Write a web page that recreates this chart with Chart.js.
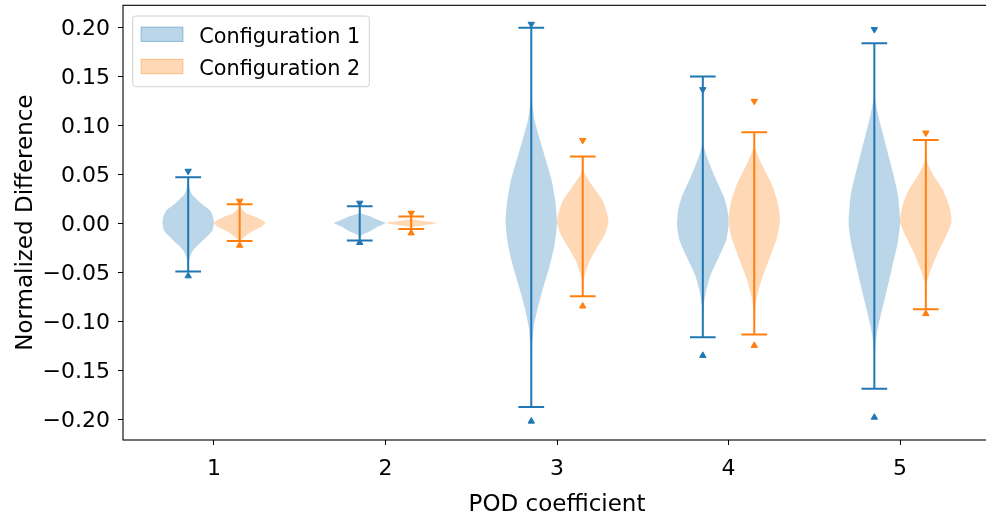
<!DOCTYPE html>
<html>
<head>
<meta charset="utf-8">
<script src="https://cdn.jsdelivr.net/npm/chart.js@4.4.1/dist/chart.umd.min.js"></script>
<style>
  html, body { margin: 0; padding: 0; background: #fff; overflow: hidden; }
  #wrap { width: 986px; height: 519px; overflow: hidden; }
  canvas { display: block; }
</style>
</head>
<body>
<div id="wrap"><canvas id="chart" width="996" height="519"></canvas></div>
<script>
// POD coefficients and axis ticks
const coefficients = [1, 2, 3, 4, 5];
const seriesNames = ['Configuration 1', 'Configuration 2'];
const xTicks = [1, 2, 3, 4, 5];
const yTicks = [-0.20, -0.15, -0.10, -0.05, 0, 0.05, 0.10, 0.15, 0.20];

// extrema of each violin (caps)
const config1Max = [0.0467, 0.0171, 0.1993, 0.1496, 0.1836];
const config1Min = [-0.0494, -0.0177, -0.1877, -0.1165, -0.1692];
const config2Max = [0.0191, 0.0068, 0.0678, 0.0927, 0.0848];
const config2Min = [-0.0184, -0.0061, -0.0746, -0.1137, -0.0879];

// triangle markers above / below
const config1Top = [0.053, 0.0204, 0.203, 0.1363, 0.1976];
const config1Bottom = [-0.054, -0.020, -0.2023, -0.1352, -0.1983];
const config2Top = [0.0225, 0.0102, 0.0845, 0.1244, 0.092];
const config2Bottom = [-0.0228, -0.0102, -0.0848, -0.125, -0.0926];

// violin outlines: [value, relative half width], top to bottom
const config1Density = [
    [[0.0467, 0], [0.040, 0.02], [0.030, 0.13], [0.020, 0.51], [0.013, 0.84], [0.006, 0.97], [0, 1], [-0.0075, 0.94], [-0.0143, 0.71], [-0.021, 0.45], [-0.028, 0.19], [-0.035, 0.06], [-0.042, 0.02], [-0.0494, 0]],
    [[0.0171, 0], [0.010, 0.05], [0.0068, 0.42], [0.0034, 0.7], [0, 1], [-0.004, 0.68], [-0.009, 0.36], [-0.0123, 0.08], [-0.0177, 0]],
    [[0.1993, 0], [0.145, 0.005], [0.125, 0.03], [0.105, 0.13], [0.0846, 0.34], [0.064, 0.57], [0.0437, 0.79], [0.023, 0.93], [0, 1], [-0.0245, 0.89], [-0.045, 0.70], [-0.0654, 0.47], [-0.0858, 0.26], [-0.106, 0.10], [-0.127, 0.03], [-0.15, 0.005], [-0.1877, 0]],
    [[0.1496, 0], [0.10, 0.003], [0.081, 0.02], [0.0675, 0.16], [0.047, 0.47], [0.0266, 0.82], [0.013, 0.96], [-0.0024, 1], [-0.018, 0.9], [-0.0348, 0.62], [-0.0517, 0.32], [-0.0688, 0.13], [-0.0858, 0.03], [-0.1165, 0]],
    [[0.1836, 0], [0.1288, 0.02], [0.108, 0.17], [0.081, 0.43], [0.0505, 0.73], [0.028, 0.92], [0, 1], [-0.021, 0.9], [-0.045, 0.69], [-0.0688, 0.48], [-0.0926, 0.26], [-0.113, 0.09], [-0.1335, 0.02], [-0.1692, 0]]
];
const config2Density = [
    [[0.0191, 0], [0.015, 0.05], [0.010, 0.25], [0.006, 0.64], [0.0027, 0.9], [0, 1], [-0.004, 0.83], [-0.009, 0.45], [-0.0143, 0.19], [-0.0184, 0]],
    [[0.0068, 0], [0.004, 0.05], [0.0027, 0.3], [0.0012, 0.75], [0, 1], [-0.0012, 0.75], [-0.0027, 0.3], [-0.004, 0.05], [-0.0061, 0]],
    [[0.0678, 0], [0.0505, 0.07], [0.0368, 0.41], [0.023, 0.77], [0.0096, 0.95], [0.001, 1], [-0.0108, 0.87], [-0.0245, 0.57], [-0.038, 0.28], [-0.0517, 0.09], [-0.062, 0.02], [-0.0746, 0]],
    [[0.0927, 0], [0.0777, 0.02], [0.0607, 0.28], [0.040, 0.67], [0.023, 0.89], [0.0045, 1], [-0.0143, 0.89], [-0.0348, 0.61], [-0.055, 0.32], [-0.0756, 0.10], [-0.0926, 0.02], [-0.1137, 0]],
    [[0.0848, 0], [0.064, 0.03], [0.0505, 0.26], [0.0334, 0.67], [0.0164, 0.92], [0.001, 1], [-0.0143, 0.77], [-0.0313, 0.45], [-0.0483, 0.19], [-0.062, 0.03], [-0.0879, 0]]
];

// layout / style
const violinOffset = 0.15;
const violinHalf = 0.15;
const capHalf = 0.075;
const font = "'DejaVu Sans', sans-serif";
const colors = ['#1f77b4', '#ff7f0e'];
const fills = ['rgba(31, 119, 180, 0.3)', 'rgba(255, 127, 14, 0.3)'];

function violinOutline(center, profile) {
    const left = profile.map(([v, w]) => ({x: center - w * violinHalf, y: v}));
    const right = profile.slice().reverse().map(([v, w]) => ({x: center + w * violinHalf, y: v}));
    return left.concat(right);
}

function whiskerPoints(centers, maxs, mins) {
    const pts = [];
    centers.forEach((c, i) => {
        pts.push({x: c - capHalf, y: maxs[i]}, {x: c + capHalf, y: maxs[i]}, {x: null, y: null});
        pts.push({x: c, y: maxs[i]}, {x: c, y: mins[i]}, {x: null, y: null});
        pts.push({x: c - capHalf, y: mins[i]}, {x: c + capHalf, y: mins[i]}, {x: null, y: null});
    });
    return pts;
}

function markerSet(centers, values, color, rotation) {
    return {
        data: centers.map((c, i) => ({x: c, y: values[i]})),
        showLine: false,
        pointStyle: 'triangle',
        pointRotation: rotation,
        pointRadius: 3.7,
        pointBackgroundColor: color,
        pointBorderColor: color,
        pointBorderWidth: 1,
        order: 1
    };
}

const configs = [
    {density: config1Density, max: config1Max, min: config1Min, top: config1Top, bottom: config1Bottom, shift: -violinOffset},
    {density: config2Density, max: config2Max, min: config2Min, top: config2Top, bottom: config2Bottom, shift: violinOffset}
];

const datasets = [];
configs.forEach((cfg, k) => {
    const centers = coefficients.map(c => c + cfg.shift);
    centers.forEach((c, i) => {
        datasets.push({
            data: violinOutline(c, cfg.density[i]),
            fill: 'shape',
            backgroundColor: fills[k],
            borderColor: 'rgba(0,0,0,0)',
            borderWidth: 1,
            pointRadius: 0,
            tension: 0.2,
            order: 3
        });
    });
    datasets.push({
        data: whiskerPoints(centers, cfg.max, cfg.min),
        borderColor: colors[k],
        borderWidth: 2,
        pointRadius: 0,
        fill: false,
        spanGaps: false,
        tension: 0,
        order: 2
    });
    datasets.push(markerSet(centers, cfg.top, colors[k], 180));
    datasets.push(markerSet(centers, cfg.bottom, colors[k], 0));
});

// spines and legend box
const framePlugin = {
    id: 'frame',
    afterDatasetsDraw(chart) {
        const {ctx, chartArea: a} = chart;
        ctx.save();
        ctx.strokeStyle = '#000';
        ctx.lineWidth = 1.1;
        ctx.strokeRect(a.left, a.top, a.right - a.left, a.bottom - a.top);

        // legend
        const lx = a.left + 9.7, ly = a.top + 10.7;
        ctx.beginPath();
        ctx.roundRect(lx, ly, 236.6, 70.7, 3);
        ctx.fillStyle = 'rgba(255,255,255,0.8)';
        ctx.fill();
        ctx.strokeStyle = '#d0d0d0';
        ctx.lineWidth = 1;
        ctx.stroke();

        ctx.font = '20.8px ' + font;
        ctx.textBaseline = 'alphabetic';
        seriesNames.forEach((name, k) => {
            const rowY = ly + 10.7 + k * 32.2;
            ctx.fillStyle = fills[k];
            ctx.fillRect(lx + 8, rowY, 42.6, 15.2);
            ctx.strokeStyle = fills[k];
            ctx.strokeRect(lx + 8.5, rowY + 0.5, 41.6, 14.2);
            ctx.fillStyle = '#000';
            ctx.fillText(name, lx + 66.6, rowY + 15.8);
        });
        ctx.restore();
    }
};

new Chart(document.getElementById('chart'), {
    type: 'line',
    data: {datasets: datasets},
    plugins: [framePlugin],
    options: {
        responsive: false,
        animation: false,
        events: [],
        indexAxis: 'y',
        layout: {padding: {top: 5.3, right: 1.4, bottom: 0, left: 0}},
        plugins: {legend: {display: false}, tooltip: {enabled: false}},
        scales: {
            x: {
                type: 'linear',
                position: 'bottom',
                min: 0.47,
                max: 5.53,
                afterFit: s => { s.height = 79; s.paddingLeft = 0; s.paddingRight = 0; },
                afterBuildTicks: s => { s.ticks = xTicks.map(v => ({value: v})); },
                grid: {drawOnChartArea: false, tickLength: 5, color: '#000', tickWidth: 1},
                border: {display: false},
                ticks: {font: {family: font, size: 22}, color: '#000', padding: 11, maxRotation: 0, autoSkip: false,
                        callback: v => String(v)},
                title: {display: true, text: 'POD coefficient', color: '#000',
                        font: {family: font, size: 23}, padding: {top: 0, bottom: 0.3}}
            },
            y: {
                type: 'linear',
                position: 'left',
                min: -0.2214,
                max: 0.2222,
                afterFit: s => { s.width = 123; s.paddingTop = 0; s.paddingBottom = 0; },
                afterBuildTicks: s => { s.ticks = yTicks.map(v => ({value: v})); },
                grid: {drawOnChartArea: false, tickLength: 5, color: '#000', tickWidth: 1},
                border: {display: false},
                ticks: {font: {family: font, size: 22}, color: '#000', padding: 8, labelOffset: 2, autoSkip: false,
                        callback: v => (v < 0 ? '\u2212' : '') + Math.abs(v).toFixed(2)},
                title: {display: true, text: 'Normalized Difference', color: '#000',
                        font: {family: font, size: 23}, padding: {top: 12.7, bottom: 0}}
            }
        }
    }
});
</script>
</body>
</html>
